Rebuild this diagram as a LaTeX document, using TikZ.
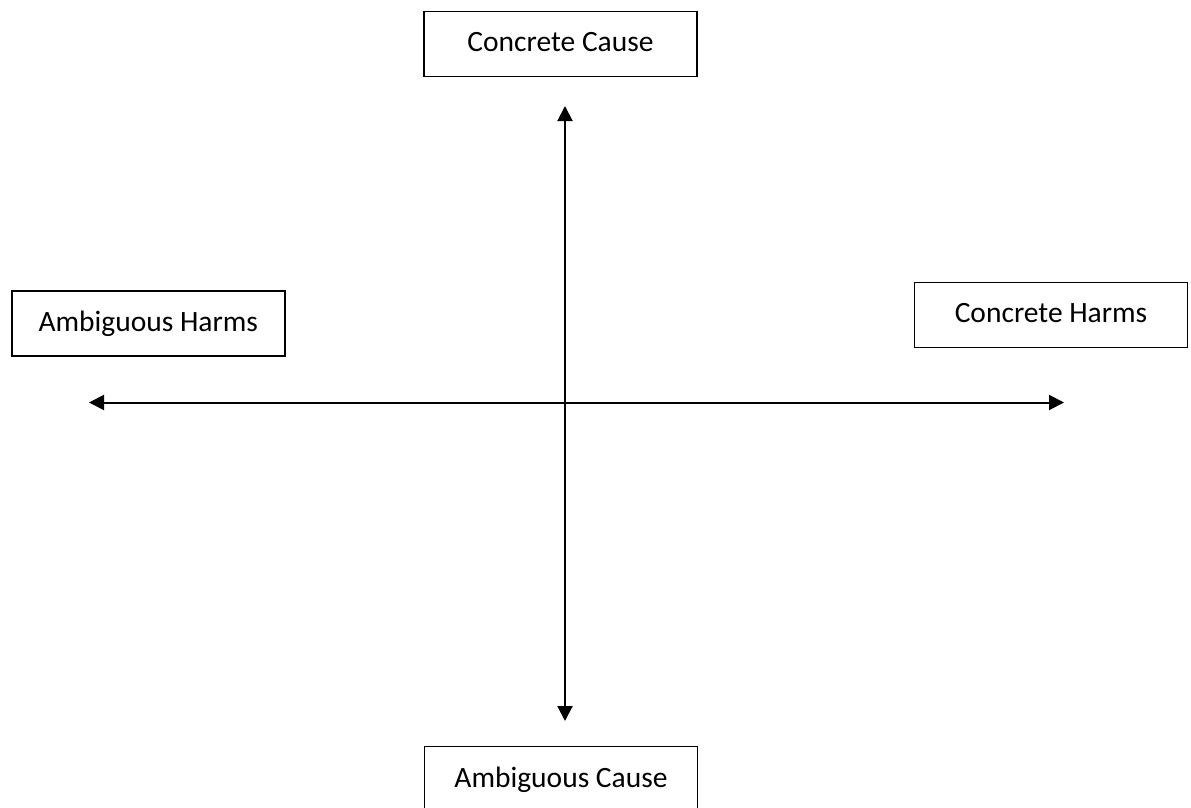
\documentclass[tikz,border=0pt]{standalone}
\usepackage{fontspec}
\setmainfont{Carlito}
\usetikzlibrary{arrows.meta}
\tikzset{
  labelbox/.style={draw=black, line width=1.6pt, rectangle, inner sep=0pt,
    minimum width=273pt, minimum height=65pt, text height=20pt, text depth=4pt,
    font=\fontsize{29.5}{35}\selectfont},
  axisline/.style={line width=2pt, {Triangle[width=15pt,length=15pt]}-{Triangle[width=15pt,length=15pt]}}
}
\begin{document}
\begin{tikzpicture}[x=1pt,y=-1pt]
\clip (0,0) rectangle (1191,808);
\useasboundingbox (0,0) rectangle (1191,808);
\fill[white] (0,0) rectangle (1191,808);
\node[labelbox] (cc) at (560.5,44) {Concrete Cause};
\node[labelbox] (ah) at (148.3,323.3) {Ambiguous Harms};
\node[labelbox] (ch) at (1051,314.8) {Concrete Harms};
\node[labelbox] (ac) at (561,779) {Ambiguous Cause};
\coordinate (vtop) at (565,106);
\coordinate (vbot) at (565,721);
\coordinate (hleft) at (89,402.5);
\coordinate (hright) at (1064,402.5);
\draw[axisline] (vtop) -- (vbot);
\draw[axisline] (hleft) -- (hright);
\end{tikzpicture}
\end{document}
